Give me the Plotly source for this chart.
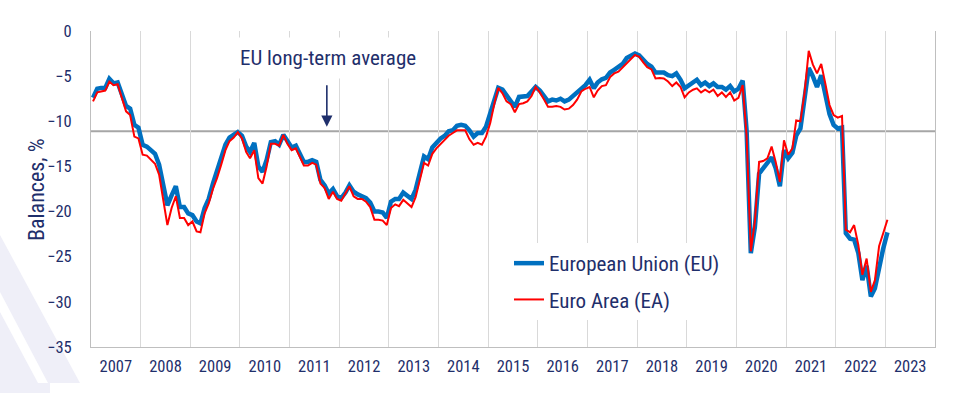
import pandas as pd
import plotly.graph_objects as go

# ---------------- data (monthly, Jan 2007 - Jan 2023) ----------------
start_month = "2007-01-01"
eu_values = [
    # 2007
    -7.4, -6.4, -6.3, -6.3, -5.3, -5.8, -5.7, -7.1, -8.3, -8.6, -10.4, -10.7,
    # 2008
    -12.6, -12.8, -13.2, -13.6, -14.8, -17.4, -19.3, -18.2, -17.2, -19.5, -19.5, -20.2,
    # 2009
    -20.4, -21.1, -21.3, -19.6, -18.6, -16.9, -15.6, -14.0, -12.6, -11.8, -11.5, -11.2,
    # 2010
    -11.6, -12.8, -13.4, -12.4, -15.0, -15.6, -14.3, -12.3, -12.2, -12.6, -11.5, -12.3,
    # 2011
    -12.9, -12.7, -13.7, -14.5, -14.5, -14.3, -14.5, -16.5, -17.1, -18.0, -17.5, -18.3,
    # 2012
    -18.5, -17.9, -17.1, -17.8, -18.1, -18.3, -18.5, -19.0, -20.0, -20.0, -20.1, -20.7,
    # 2013
    -18.9, -18.6, -18.6, -17.9, -18.3, -18.6, -17.6, -15.9, -13.9, -14.2, -12.9, -12.4,
    # 2014
    -11.9, -11.6, -11.1, -11.0, -10.5, -10.4, -10.5, -11.0, -11.7, -11.3, -11.3, -10.6,
    # 2015
    -9.1, -7.5, -6.3, -6.5, -7.2, -7.7, -8.4, -7.3, -7.2, -7.2, -6.7, -6.2,
    # 2016
    -6.6, -7.3, -7.8, -7.6, -7.7, -7.5, -7.8, -7.6, -7.2, -6.8, -6.35, -6.0,
    # 2017
    -5.4, -6.35, -5.7, -5.35, -5.2, -4.6, -4.3, -3.95, -3.65, -3.0, -2.8, -2.5,
    # 2018
    -2.7, -3.2, -3.65, -3.95, -4.6, -4.6, -4.6, -4.9, -5.0, -4.7, -5.4, -6.35,
    # 2019
    -6.0, -5.8, -5.4, -6.0, -5.7, -6.1, -5.8, -6.2, -6.2, -6.5, -6.1, -6.7,
    # 2020
    -6.4, -5.5, -11.0, -24.6, -21.7, -15.8, -15.2, -14.7, -14.0, -15.2, -17.2, -13.2,
    # 2021
    -14.1, -13.5, -11.6, -10.8, -7.6, -4.1, -5.0, -6.2, -4.9, -7.1, -9.2, -10.4,
    # 2022
    -10.8, -10.7, -22.4, -23.0, -23.1, -24.6, -27.6, -26.0, -29.4, -28.5, -26.1, -24.1,
    # 2023
    -22.3,
]
ea_values = [
    # 2007
    -7.8, -6.8, -6.7, -6.6, -5.6, -6.0, -5.9, -7.5, -8.9, -9.3, -11.7, -11.9,
    # 2008
    -13.7, -13.8, -14.2, -14.7, -15.9, -18.9, -21.5, -19.6, -18.3, -20.7, -20.7, -21.5,
    # 2009
    -21.1, -22.2, -22.3, -20.2, -19.1, -17.5, -16.3, -14.8, -13.2, -12.2, -11.8, -11.2,
    # 2010
    -11.9, -13.4, -14.1, -13.2, -16.3, -16.9, -15.0, -12.5, -12.5, -12.7, -11.5, -12.5,
    # 2011
    -13.2, -13.0, -13.9, -14.9, -14.9, -14.6, -14.8, -16.9, -17.4, -18.6, -17.8, -18.6,
    # 2012
    -18.8, -18.0, -17.2, -18.3, -18.6, -18.6, -18.9, -19.5, -20.9, -20.9, -21.0, -21.5,
    # 2013
    -19.6, -19.2, -19.4, -18.7, -19.1, -19.5, -18.4, -16.6, -14.6, -14.9, -13.6, -13.0,
    # 2014
    -12.5, -12.0, -11.6, -11.3, -11.0, -11.0, -11.0, -12.0, -12.6, -12.4, -12.6, -11.7,
    # 2015
    -10.2, -8.0, -6.3, -6.9, -7.8, -8.1, -9.0, -8.1, -8.0, -7.8, -7.2, -6.2,
    # 2016
    -6.8, -7.6, -8.4, -8.4, -8.3, -8.4, -8.7, -8.6, -8.2, -7.6, -6.7, -6.4,
    # 2017
    -6.2, -7.35, -6.6, -6.1, -6.0, -5.1, -4.7, -4.5, -4.0, -3.5, -3.1, -2.65,
    # 2018
    -2.85, -3.5, -4.0, -4.25, -5.25, -5.2, -5.25, -5.6, -6.1, -5.7, -6.2, -7.35,
    # 2019
    -6.8, -6.5, -6.35, -6.8, -6.5, -6.8, -6.5, -7.2, -6.8, -7.3, -6.8, -7.7,
    # 2020
    -7.4, -6.0, -11.6, -24.4, -21.1, -14.5, -14.4, -14.1, -12.8, -14.5, -16.7, -12.1,
    # 2021
    -13.7, -13.0, -9.9, -10.0, -6.9, -2.2, -3.7, -4.7, -3.65, -5.8, -8.2, -9.3,
    # 2022
    -9.6, -9.4, -22.0, -22.3, -21.5, -23.7, -27.0, -25.2, -28.9, -27.6, -23.8, -22.4,
    # 2023
    -20.9,
]
long_term_average = -11.1
series_names = ["European Union (EU)", "Euro Area (EA)"]
annotation_text = "EU long-term average"
y_title = "Balances, %"

# monthly observations plotted mid-month
dates = pd.date_range(start_month, periods=len(eu_values), freq="MS") + pd.Timedelta(days=15)

NAVY = "#1f2f6b"
FONT = "Liberation Sans Narrow, Arial Narrow, Roboto Condensed, DejaVu Sans Condensed, sans-serif"

fig = go.Figure()
fig.add_trace(go.Scatter(x=dates, y=eu_values, mode="lines", name=series_names[0],
                         legendgroup="eu",
                         line=dict(color="#0070C0", width=4.5)))
fig.add_trace(go.Scatter(x=dates, y=ea_values, mode="lines", name=series_names[1],
                         legendgroup="ea",
                         line=dict(color="#FF0000", width=2)))

W, H = 961, 393
L, R, T, B = 91, 26, 31, 46
PW, PH = W - L - R, H - T - B


def px(xp):
    return (xp - L) / PW


def py(yp):
    return (H - B - yp) / PH


shapes = [
    # decorative lavender band at bottom left
    dict(type="path", xref="paper", yref="paper", layer="below",
         path=f"M{px(0)},{py(235)} L{px(80)},{py(383)} L{px(50)},{py(383)} "
              f"L{px(50)},{py(393)} L{px(0)},{py(393)} Z",
         fillcolor="#EFEFF8", line=dict(width=0)),
    dict(type="path", xref="paper", yref="paper", layer="below",
         path=f"M{px(0)},{py(292)} L{px(48)},{py(383)} L{px(38)},{py(383)} L{px(0)},{py(312)} Z",
         fillcolor="#FFFFFF", line=dict(width=0)),
    # long-term average line
    dict(type="line", xref="paper", x0=0, x1=1, yref="y",
         y0=long_term_average, y1=long_term_average,
         line=dict(color="#A6A6A6", width=2), layer="between"),
]

annotations = [
    dict(text=annotation_text, xref="paper", yref="paper",
         x=px(328), y=py(58), xanchor="center", yanchor="middle", showarrow=False,
         font=dict(family=FONT, size=21, color=NAVY),
         bgcolor="#FFFFFF", borderpad=8),
    dict(text="", xref="x", yref="y", x="2011-10-02", y=long_term_average + 0.5,
         showarrow=True, ax=0, ay=-43, arrowhead=2, arrowsize=1.4,
         arrowwidth=1.6, arrowcolor=NAVY),
    # y-axis title
    dict(text=y_title, xref="paper", yref="paper", x=px(36), y=py(189),
         xanchor="center", yanchor="middle", textangle=-90, showarrow=False,
         font=dict(family=FONT, size=22, color=NAVY)),
]

fig.update_layout(
    width=W, height=H,
    margin=dict(l=L, r=R, t=T, b=B, pad=0, autoexpand=False),
    paper_bgcolor="#FFFFFF", plot_bgcolor="#FFFFFF",
    font=dict(family=FONT, color=NAVY),
    shapes=shapes, annotations=annotations,
    showlegend=True,
    legend=dict(x=px(509), y=py(243), xanchor="left", yanchor="top",
                bgcolor="#FFFFFF", borderwidth=0,
                font=dict(family=FONT, size=21, color=NAVY),
                tracegroupgap=6),
    xaxis=dict(type="date", range=["2007-01-01", "2024-01-01"],
               tick0="2007-01-01", dtick="M12", tickformat="%Y",
               ticklabelmode="period", automargin=False,
               showgrid=True, gridcolor="#D9D9D9", gridwidth=1,
               showline=True, linecolor="#BFBFBF", linewidth=1,
               ticks="", zeroline=False, ticklabelstandoff=4,
               tickfont=dict(family=FONT, size=16.5, color=NAVY)),
    yaxis=dict(range=[-35, 0], dtick=5, tick0=0, automargin=False,
               showgrid=False, zeroline=False,
               showline=True, mirror=True, linecolor="#BFBFBF", linewidth=1,
               ticks="", ticklabelstandoff=15,
               tickfont=dict(family=FONT, size=16.5, color=NAVY)),
)

fig.write_html("out.html", config={"displayModeBar": False},
               post_script="document.body.style.margin='0';")
